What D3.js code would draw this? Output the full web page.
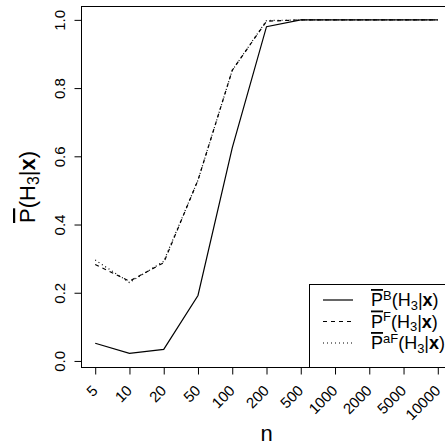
<!DOCTYPE html>
<html>
<head>
<meta charset="utf-8">
<script src="https://cdn.jsdelivr.net/npm/d3@7"></script>
<style>
  body { margin: 0; background: #fff; }
  text { font-family: "Liberation Sans", Arial, sans-serif; }
</style>
</head>
<body>
<div id="chart"></div>
<script>
// sample sizes on the x axis (equally spaced)
var nLabels = ["5", "10", "20", "50", "100", "200", "500", "1000", "2000", "5000", "10000"];
// posterior probability of H3, three variants
var probB  = [0.052, 0.022, 0.034, 0.192, 0.625, 0.980, 1.0, 1.0, 1.0, 1.0, 1.0];
var probF  = [0.283, 0.234, 0.288, 0.530, 0.852, 0.996, 1.0, 1.0, 1.0, 1.0, 1.0];
var probAF = [0.296, 0.230, 0.292, 0.530, 0.852, 0.998, 1.0, 1.0, 1.0, 1.0, 1.0];
var yTicks = [0, 0.2, 0.4, 0.6, 0.8, 1.0];
var legendSup = ["B", "F", "aF"];

var width = 445, height = 446;
var mLeft = 81.5, mRight = 451.5, mTop = 6.5, mBottom = 367.5;

var svg = d3.select("#chart").append("svg")
    .attr("width", width)
    .attr("height", height);

var x = d3.scaleLinear().domain([-0.4, nLabels.length - 1 + 0.4]).range([mLeft, mRight]);
var y = d3.scaleLinear().domain([-0.0192, 1.0392]).range([mBottom, mTop]);

// x axis
var xAxis = d3.axisBottom(x)
    .tickValues(d3.range(nLabels.length))
    .tickSize(7)
    .tickFormat(function(i) { return nLabels[i]; });

var gx = svg.append("g")
    .attr("transform", "translate(0," + mBottom + ")")
    .call(xAxis);
gx.select(".domain").remove();
gx.selectAll(".tick line").attr("stroke", "#000");
gx.selectAll(".tick text")
    .attr("fill", "#000")
    .style("font-size", "15px")
    .attr("text-anchor", "end")
    .attr("dy", null)
    .attr("y", 0)
    .attr("transform", "translate(3,24) rotate(-45)");

// y axis
var yAxis = d3.axisLeft(y).tickValues(yTicks).tickSize(7).tickFormat(d3.format(".1f"));
var gy = svg.append("g")
    .attr("transform", "translate(" + mLeft + ",0)")
    .call(yAxis);
gy.select(".domain").remove();
gy.selectAll(".tick line").attr("stroke", "#000");
gy.selectAll(".tick text")
    .attr("fill", "#000")
    .style("font-size", "15px")
    .attr("text-anchor", "middle")
    .attr("x", 0)
    .attr("dy", null)
    .attr("transform", "translate(-16.5,0) rotate(-90)");

// plot box
svg.append("rect")
    .attr("x", mLeft).attr("y", mTop)
    .attr("width", mRight - mLeft).attr("height", mBottom - mTop)
    .attr("fill", "none").attr("stroke", "#000").attr("stroke-width", 1);

// lines
var line = d3.line()
    .x(function(d, i) { return x(i); })
    .y(function(d) { return y(d); });

var series = [
  { values: probB,  dash: null },
  { values: probF,  dash: "4,4" },
  { values: probAF, dash: "1,3" }
];

series.forEach(function(s) {
  svg.append("path")
      .datum(s.values)
      .attr("d", line)
      .attr("fill", "none")
      .attr("stroke", "#000")
      .attr("stroke-width", 1.2)
      .attr("stroke-dasharray", s.dash);
});

// P-bar(H3|x) style label
function probLabel(sel, sup, size) {
  var small = (size * 0.72) + "px";
  sel.append("tspan").attr("text-decoration", "overline").text("P");
  if (sup) {
    sel.append("tspan").attr("dy", -size * 0.36).style("font-size", small).text(sup);
    sel.append("tspan").attr("dy", size * 0.36).text("(H");
  } else {
    sel.append("tspan").text("(H");
  }
  sel.append("tspan").attr("dy", size * 0.2).style("font-size", small).text("3");
  sel.append("tspan").attr("dy", -size * 0.2).text("|");
  sel.append("tspan").style("font-weight", "bold").text("x");
  sel.append("tspan").text(")");
}

// axis titles
svg.append("text")
    .attr("x", (mLeft + mRight) / 2)
    .attr("y", 441)
    .attr("text-anchor", "middle")
    .style("font-size", "22px")
    .text("n");

var ylab = svg.append("text")
    .attr("transform", "translate(35," + ((mTop + mBottom) / 2) + ") rotate(-90)")
    .attr("text-anchor", "middle")
    .style("font-size", "22px");
probLabel(ylab, null, 22);

// legend (bottom right)
var legX = 309.5, legY = 284.5;
svg.append("rect")
    .attr("x", legX).attr("y", legY)
    .attr("width", mRight - legX).attr("height", mBottom - legY)
    .attr("fill", "#fff").attr("stroke", "#000");

series.forEach(function(s, i) {
  var ry = 300 + i * 21.5;
  svg.append("line")
      .attr("x1", 323).attr("x2", 353)
      .attr("y1", ry).attr("y2", ry)
      .attr("stroke", "#000")
      .attr("stroke-width", 1.2)
      .attr("stroke-dasharray", s.dash);
  var t = svg.append("text")
      .attr("x", 371)
      .attr("y", ry + 6)
      .style("font-size", "18px");
  probLabel(t, legendSup[i], 18);
});
</script>
</body>
</html>
